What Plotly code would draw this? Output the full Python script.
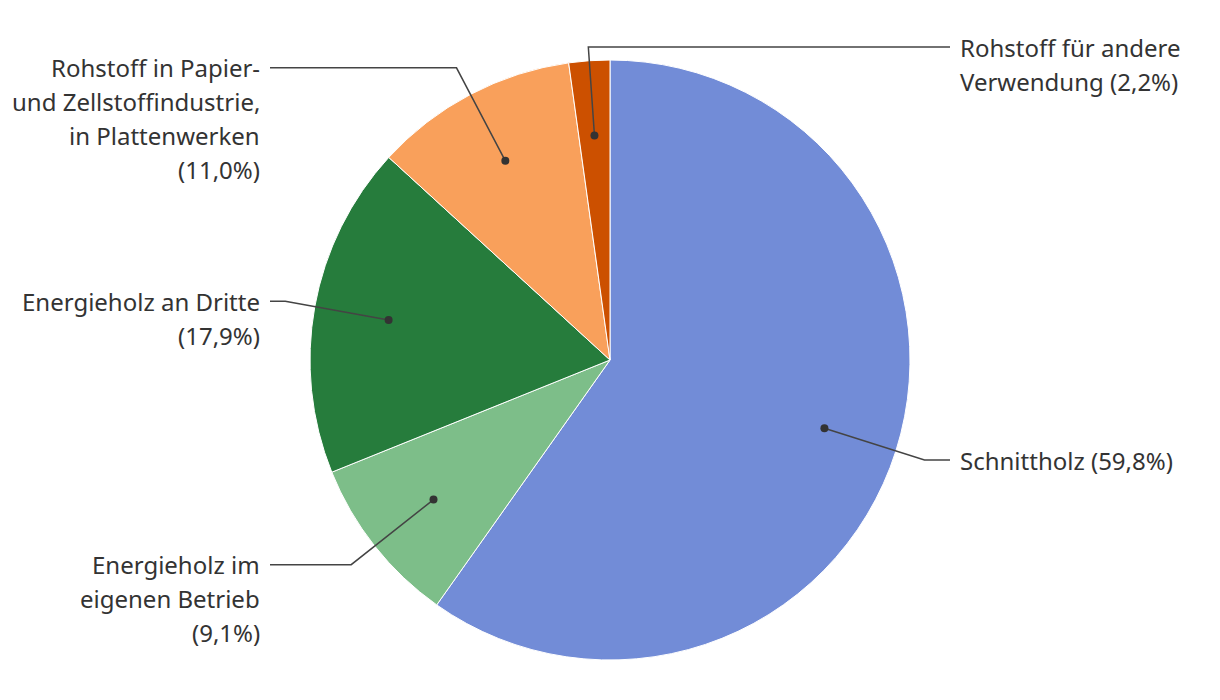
import math
import plotly.graph_objects as go

# ---- data ----
categories = [
    "Schnittholz",
    "Energieholz im eigenen Betrieb",
    "Energieholz an Dritte",
    "Rohstoff in Papier- und Zellstoffindustrie, in Plattenwerken",
    "Rohstoff für andere Verwendung",
]
values = [59.8, 9.1, 17.9, 11.0, 2.2]
label_lines = [
    ["Schnittholz"],
    ["Energieholz im", "eigenen Betrieb"],
    ["Energieholz an Dritte"],
    ["Rohstoff in Papier-", "und Zellstoffindustrie,", "in Plattenwerken"],
    ["Rohstoff für andere", "Verwendung"],
]
# whether the percentage goes on the last line (True) or a new line (False)
pct_inline = [True, False, False, False, True]
colors = ["#728cd7", "#7dbe89", "#267c3c", "#f9a05b", "#cc5000"]

# ---- layout geometry (page body has an 8px offset) ----
W, H = 1220, 700
OFF = 8
CX, CY, R = 610 - OFF, 360 - OFF, 300
DOT_R = 0.75 * R
ELBOW_R = 1.1 * R
LINE_END = 340
TEXT_GAP = 8
LINE_H = 34
TOP_MIN = 47 - OFF
FONT = dict(family="Noto Sans", size=24, color="#333333")
LINE_COLOR = "#444444"

fig = go.Figure()
fig.add_trace(go.Pie(
    labels=categories, values=values, sort=False, direction="clockwise",
    rotation=0, textinfo="none", hoverinfo="label+percent",
    marker=dict(colors=colors, line=dict(color="white", width=1)),
    domain=dict(x=[(CX - R) / W, (CX + R) / W], y=[(H - CY - R) / H, (H - CY + R) / H]),
    showlegend=False,
))

total = sum(values)
annotations = []
shapes = []
cum = 0.0
for v, lines, inline in zip(values, label_lines, pct_inline):
    mid = (cum + v / 2) / total * 2 * math.pi
    cum += v
    s, c = math.sin(mid), math.cos(mid)
    dx, dy = CX + DOT_R * s, CY - DOT_R * c
    ex, ey = CX + ELBOW_R * s, CY - ELBOW_R * c
    if ey < TOP_MIN:
        ey = TOP_MIN
        ex = CX + (CY - ey) / c * s
    # slices right at the top put their label on the (less crowded) right side
    right = s >= 0 or c > 0.99
    hx = CX + LINE_END if right else CX - LINE_END
    shapes.append(dict(type="path", xref="x", yref="y", layer="above",
                       path=f"M{dx},{dy} L{ex},{ey} L{hx},{ey}",
                       line=dict(color=LINE_COLOR, width=1.5)))
    shapes.append(dict(type="circle", xref="x", yref="y", layer="above",
                       x0=dx - 4, x1=dx + 4, y0=dy - 4, y1=dy + 4,
                       fillcolor="#333333", line=dict(width=0)))
    pct = f"({v:.1f}%)".replace(".", ",")
    txt = list(lines)
    if inline:
        txt[-1] = txt[-1] + " " + pct
    else:
        txt.append(pct)
    tx = hx + TEXT_GAP if right else hx - TEXT_GAP
    for i, t in enumerate(txt):
        annotations.append(dict(
            x=tx, y=ey + i * LINE_H, xref="x", yref="y", text=t, showarrow=False,
            xanchor="left" if right else "right", yanchor="middle", font=FONT))

fig.update_layout(
    width=W, height=H, margin=dict(l=0, r=0, t=0, b=0),
    paper_bgcolor="white", plot_bgcolor="rgba(0,0,0,0)",
    xaxis=dict(range=[0, W], visible=False, fixedrange=True, domain=[0, 1]),
    yaxis=dict(range=[H, 0], visible=False, fixedrange=True, domain=[0, 1]),
    annotations=annotations, shapes=shapes,
)
fig.write_html("out.html")
